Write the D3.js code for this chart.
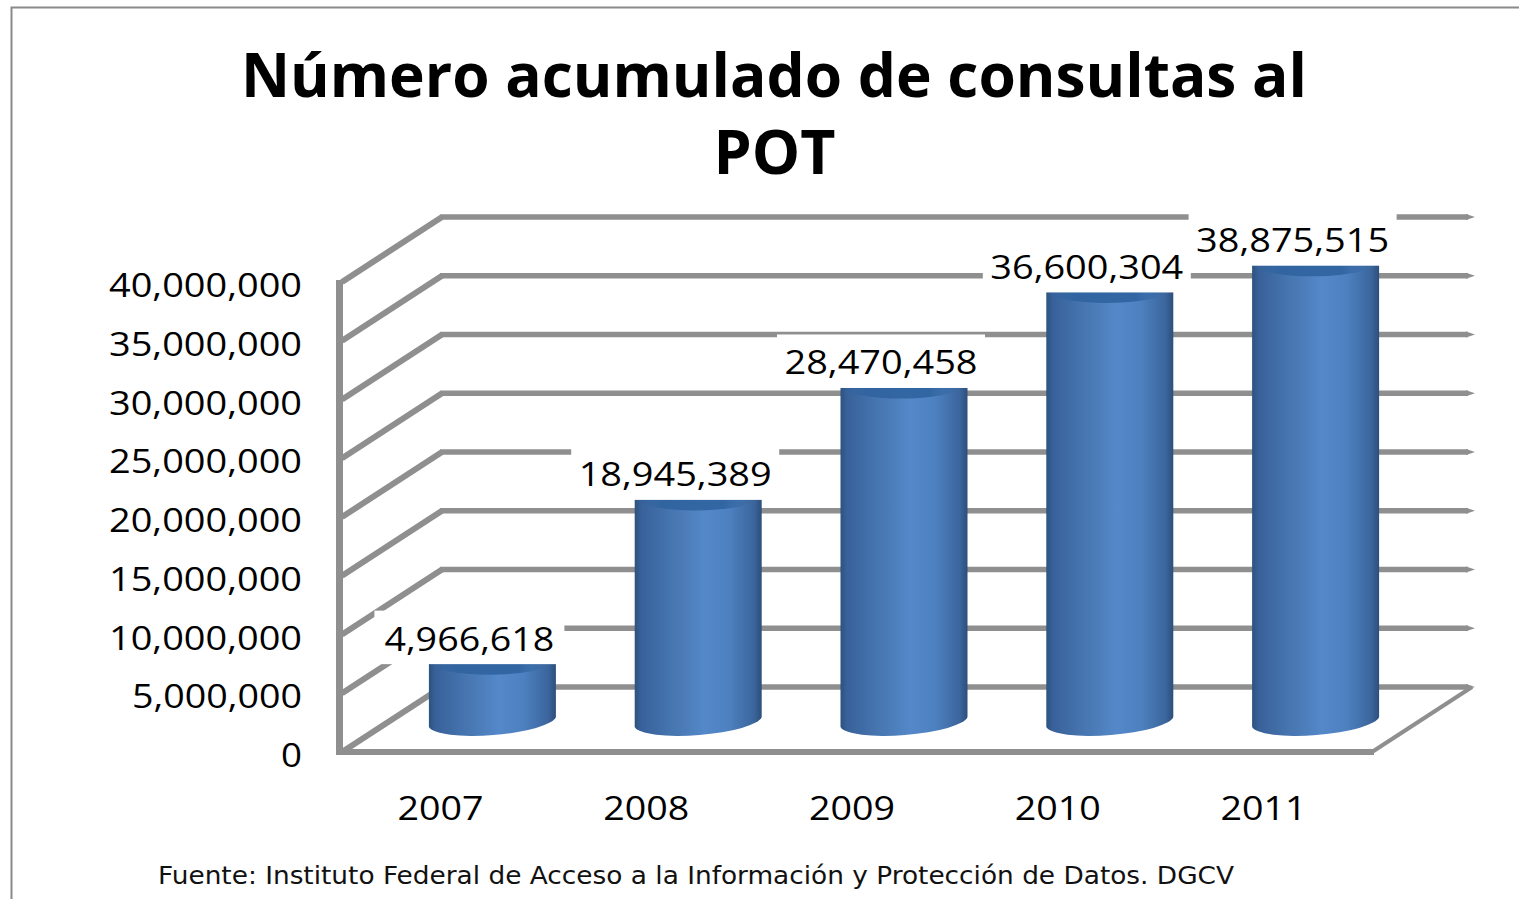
<!DOCTYPE html>
<html><head><meta charset="utf-8">
<script src="https://cdnjs.cloudflare.com/ajax/libs/d3/7.8.5/d3.min.js"></script>
<style>html,body{margin:0;padding:0;background:#fff;overflow:hidden}svg{display:block}</style>
</head><body><svg id="c" width="1519" height="899"></svg>
<script>
const years = ["2007","2008","2009","2010","2011"];
const values = [4966618,18945389,28470458,36600304,38875515];
const yTicks = [0,5000000,10000000,15000000,20000000,25000000,30000000,35000000,40000000];
const titleLines = ["Número acumulado de consultas al","POT"];
const source = "Fuente: Instituto Federal de Acceso a la Información y Protección de Datos. DGCV";

const svg = d3.select("#c");
const FONT = "'Open Sans', sans-serif";
const GRID = "#8f8f8f";
const fmt = d3.format(",");

const y = d3.scaleLinear().domain([0,40000000]).range([752,282]);
const depth = {x:100,y:-65};
const x = d3.scaleBand().domain(years).range([389.5,1418.5]);
const barW = 127, ry = 14.5, tilt = 5;
const barBaseShift = -30;

// frame
svg.append("path").attr("d","M11.5 899V7.5H1519").attr("fill","none").attr("stroke","#8a8a8a").attr("stroke-width",2);

// title
svg.append("g").selectAll("text").data(titleLines).join("text")
  .attr("x",(d,i)=>i?774.5:774).attr("y",(d,i)=>i?174:97)
  .attr("text-anchor","middle").attr("font-family",FONT).attr("font-weight",700)
  .attr("font-size",60).attr("textLength",(d,i)=>i?122:1066).attr("lengthAdjust","spacingAndGlyphs")
  .attr("fill","#000").text(d=>d);

// gradients
const defs = svg.append("defs");
const g = defs.append("linearGradient").attr("id","cyl").attr("x1",0).attr("x2",1).attr("y1",0).attr("y2",0);
[[0,"#2d527f"],[.05,"#38619a"],[.3,"#4776b0"],[.55,"#5488c9"],[.75,"#4d80bf"],[.94,"#3b659c"],[1,"#2c4f7c"]]
  .forEach(s=>g.append("stop").attr("offset",s[0]).attr("stop-color",s[1]));
const lensG = defs.append("linearGradient").attr("id","lens").attr("x1",0).attr("x2",1).attr("y1",0).attr("y2",0);
[[0,0],[.22,.9],[.75,.9],[1,0]].forEach(s=>lensG.append("stop").attr("offset",s[0]).attr("stop-color","#2f639f").attr("stop-opacity",s[1]));

// walls and gridlines
const grid = svg.append("g").attr("fill","none").attr("stroke",GRID);
grid.selectAll("path.d").data(yTicks).join("path").attr("class","d")
  .attr("stroke-width",6)
  .attr("d",d=>`M${342} ${y(d)}L${342+depth.x} ${y(d)+depth.y}`);
grid.selectAll("path.b").data(yTicks).join("path").attr("class","b")
  .attr("stroke-width",5.5)
  .attr("d",d=>`M${342+depth.x-2} ${y(d)+depth.y}H1468`);
grid.selectAll("path.t").data(yTicks).join("path").attr("class","t")
  .attr("fill",GRID).attr("stroke","none")
  .attr("d",d=>`M1466 ${y(d)+depth.y-3}L1475 ${y(d)+depth.y}L1466 ${y(d)+depth.y+3}Z`);
grid.append("path").attr("stroke-width",4).attr("d",`M1372 ${y(0)}L1472 ${y(0)+depth.y}`);
grid.append("path").attr("stroke-width",7).attr("d",`M339.5 ${y(40000000)-2}V${y(0)+3}`);
grid.append("path").attr("stroke-width",6).attr("d",`M336 ${y(0)}H1374`);

// cylinders
const bars = svg.append("g").selectAll("g").data(years.map((k,i)=>({k,v:values[i]}))).join("g");
const cx = d => x(d.k)+x.bandwidth()/2;
const hgt = d => y(0)-y(d.v);
const base = y(0)+barBaseShift;
const top_ = d => base-hgt(d);
bars.append("path").attr("fill","url(#cyl)").attr("d",d=>{
  const c=cx(d), t=top_(d)-8, l=c-barW/2, r=c+barW/2;
  return `M${l} ${t}L${l} ${base+tilt}A${barW/2+.5} ${ry} -4.5 0 0 ${r} ${base-tilt}L${r} ${t}Z`;
});
bars.append("ellipse").attr("fill","url(#lens)")
  .attr("cx",d=>cx(d)-3).attr("cy",d=>top_(d)).attr("rx",58).attr("ry",11);

// value labels with white backing
const lab = bars.append("g");
lab.append("rect").attr("fill","#fff")
  .attr("x",d=>cx(d)-23-(d.v<1e7?95:104))
  .attr("width",d=>d.v<1e7?190:208)
  .attr("y",d=>top_(d)-53).attr("height",53.5);
lab.append("text").attr("x",d=>cx(d)-23).attr("y",d=>top_(d)-13)
  .attr("text-anchor","middle").attr("font-family",FONT).attr("font-size",33)
  .attr("textLength",d=>d.v<1e7?170:193).attr("lengthAdjust","spacingAndGlyphs")
  .attr("fill","#000").text(d=>fmt(d.v));

// axis labels
const yAxis = svg.append("g").attr("transform","translate(302,3)")
  .call(d3.axisLeft(y).tickValues(yTicks).tickFormat(fmt).tickSize(0).tickPadding(0));
yAxis.select(".domain").remove();
yAxis.selectAll("text").attr("font-family",FONT).attr("font-size",33).attr("fill","#000")
  .attr("textLength",d=>d===0?21:d<1e7?170:193).attr("lengthAdjust","spacingAndGlyphs")
  .attr("dy","0.35em");

const xAxis = svg.append("g").attr("transform","translate(-52,808)")
  .call(d3.axisBottom(x).tickSize(0).tickPadding(0));
xAxis.select(".domain").remove();
xAxis.selectAll("text").attr("font-family",FONT).attr("font-size",33).attr("fill","#000")
  .attr("dy","0.35em").attr("y",0).attr("textLength",86).attr("lengthAdjust","spacingAndGlyphs");

svg.append("text").attr("x",158).attr("y",884).attr("font-family","'DejaVu Sans',sans-serif")
  .attr("font-size",24).attr("textLength",1076).attr("lengthAdjust","spacingAndGlyphs").attr("fill","#111").text(source);
</script></body></html>
